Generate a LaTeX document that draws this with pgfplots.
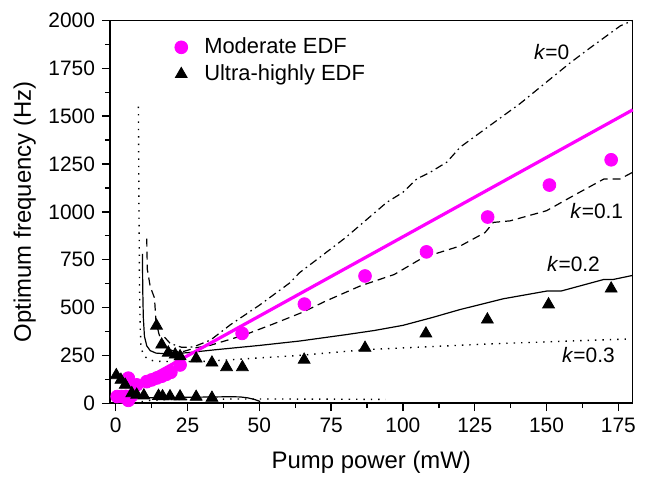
\documentclass[border=0pt]{standalone}
\usepackage{fontspec}
\setmainfont{Liberation Sans}
\usepackage{pgfplots}
\pgfplotsset{compat=1.18}

\definecolor{pinkm}{RGB}{255,0,255}

\begin{document}
\begin{tikzpicture}
\begin{axis}[
  scale only axis, width=261.4bp, height=191.4bp,
  xmin=-2, xmax=180, ymin=0, ymax=2000,
  xtick={0,25,...,175}, ytick={0,250,...,2000},
  minor x tick num=1, minor y tick num=1,
  xtick pos=left, ytick pos=left, tick align=outside,
  major tick length=4bp, minor tick length=2.5bp,
  every tick/.style={black, line width=0.7bp},
  axis line style={line width=0.75bp},
  tick label style={font=\fontsize{10.5}{12}\selectfont},
  /pgf/number format/assume math mode=true,
  /pgf/number format/1000 sep={},
  scaled ticks=false,
  xlabel={Pump power (mW)}, ylabel={Optimum frequency (Hz)},
  label style={font=\fontsize{12}{14}\selectfont},
  xlabel style={at={(axis description cs:0.5,-0.154)}, anchor=center},
  ylabel style={at={(axis description cs:-0.163,0.5)}, anchor=center},
  clip=false,
  legend cell align=left,
  legend image code/.code={\path (0bp,0bp) (16bp,0bp);
    \draw[#1] plot coordinates {(6.7bp,0bp)};},
  legend style={draw=none, fill=none, inner sep=0pt, outer sep=0pt,
    font=\fontsize{11}{13}\selectfont, at={(0.110,0.965)}, anchor=north west},
]
% k = 0 (dash-dot)
\addplot[forget plot, black, line width=0.6bp, dash pattern=on 4bp off 2bp on 0.8bp off 2bp] coordinates {
 (17,345) (19,312) (23,292) (27,294) (33,330) (40,411) (50,512) (60.7,630) (64,682)
 (80,865) (94.4,1050) (100,1102) (104.8,1172) (109.5,1207) (115.3,1260) (120,1339)
 (140.8,1566) (158,1776) (165,1855) (175.7,1972) (180,2000)};
% k = 0.1 (dashed)
\addplot[forget plot, black, line width=0.6bp, dash pattern=on 4bp off 2.5bp] coordinates {
 (10.8,860) (11,700) (12,610) (13.5,550) (14,430) (15,365) (16,320) (18,287) (20,273)
 (23,268) (28,290) (33,303) (44.5,355) (55,415) (65,475) (73,533) (85,612) (97,673)
 (107,761) (120,822) (128.6,892) (131.5,945) (137.3,953) (150,1006) (160,1090)
 (170,1172) (175.6,1172) (180,1207)};
% k = 0.2 (solid)
\addplot[forget plot, black, line width=0.6bp] coordinates {
 (9.3,780) (9.4,600) (9.6,450) (10,350) (10.8,300) (12,275) (14,262) (18,258) (25,264)
 (35,280) (50,302) (64,325) (80,358) (90,380) (100,407) (110,447) (120,490) (135,546)
 (150,586) (155,586) (170,647) (173.3,647) (180,668)};
\addplot[forget plot, black, line width=0.6bp] coordinates {
 (0,26) (10,28) (20,30) (30,32) (40,34) (43.3,33) (46,28) (48.5,19) (50.3,9)};
% k = 0.3 (dotted)
\addplot[forget plot, black, line width=0.7bp, dash pattern=on 0.7bp off 3bp] coordinates {
 (7.9,1550) (8.1,1000) (8.3,600) (8.5,400) (8.8,300) (9.5,255) (11,232) (13,222)
 (16,218) (30,218) (45,232) (64,250) (87,280) (130,310) (179,336)};
\addplot[forget plot, black, line width=0.7bp, dash pattern=on 0.7bp off 3bp] coordinates {
 (9,8) (12,15) (20,20) (40,22) (60,22) (80,21) (94,20)};
% fitted line, moderate EDF
\addplot[forget plot, pinkm, line width=1.6bp] coordinates {(7.5,103) (180,1533)};
% moderate EDF
\addplot[only marks, mark=*, mark size=3.2bp, pinkm] coordinates {
 (0.5,35) (2,35) (3.5,36) (5.5,38) (4.4,15) (4.4,131) (7.3,96)
 (10.8,113) (12.5,122) (14.3,132) (16,141) (17.6,151) (19.2,162) (22.4,200)
 (44,365) (65.7,518) (86.8,665) (108.2,791) (129.5,973) (151,1140) (172.5,1272)};
\addlegendentry{Moderate EDF}
% ultra-highly EDF
\addplot[only marks, mark=triangle*, mark size=3.4bp, black] coordinates {
 (14.2,405) (16,306) (18.3,264) (20.7,254) (22.4,245) (28,233) (33.5,212)
 (38.6,188) (44.1,188) (65.6,227) (86.8,289) (108,364) (129.4,437) (150.7,516)
 (172.5,599)
 (0.2,146) (1.8,122) (3.3,96) (5.6,52) (7.3,44) (9.8,40) (14.9,38) (16.3,36)
 (18.9,36) (22.4,35) (28,33) (33.5,28)};
\addlegendentry{Ultra-highly EDF}

\node[font=\fontsize{10.5}{12}\selectfont] at (axis cs:151.8,1837) {\textit{k}=0};
\node[font=\fontsize{10.5}{12}\selectfont] at (axis cs:167.5,1006) {\textit{k}=0.1};
\node[font=\fontsize{10.5}{12}\selectfont] at (axis cs:159.4,726) {\textit{k}=0.2};
\node[font=\fontsize{10.5}{12}\selectfont] at (axis cs:164.6,253) {\textit{k}=0.3};

\coordinate (SW) at (rel axis cs:0,0);
\coordinate (NE) at (rel axis cs:1,1);
\end{axis}
\pgfresetboundingbox
\path ([xshift=-55bp,yshift=-37.35bp]SW) rectangle ([xshift=8.15bp,yshift=10.25bp]NE);
\end{tikzpicture}
\end{document}
